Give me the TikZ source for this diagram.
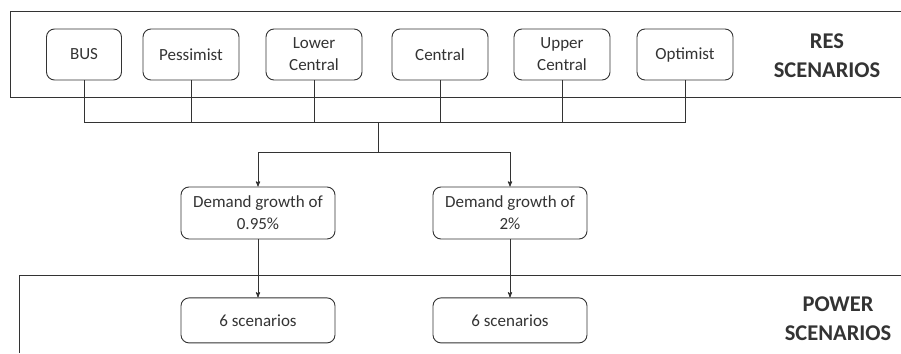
\documentclass[tikz,border=0pt]{standalone}
\usepackage{fontspec}
\setmainfont{Carlito}
\usetikzlibrary{arrows,
    positioning}

\begin{document}
\begin{tikzpicture} [x = 1pt, y = -1pt,
    > = stealth',
    line width = 0.9pt,
    draw = black!80,
    every node/.style = {text = black!80, font = \fontsize{17}{22}\selectfont},
    res/.style = {draw, rounded corners = 8pt, align = center,
        minimum width = 96pt, minimum height = 51pt, inner sep = 2pt},
    demand/.style = {res, minimum width = 154pt, minimum height = 52pt},
    power/.style = {res, minimum width = 154pt, minimum height = 45pt},
    title/.style = {align = center, font = \fontsize{22.5}{29}\selectfont\bfseries}]
\useasboundingbox (0,0) rectangle (901,353);

\draw (901,11) -- (10,11) -- (10,97) -- (901,97);
\draw (901,275) -- (19,275) -- (19,353);

\node[res, minimum width=75pt] (bus) at (84,54.5) {BUS};
\node[res] (pess) at (191,54.5) {Pessimist};
\node[res] (lowc) at (314,54.5) {Lower\\Central};
\node[res] (cent) at (440,54.5) {Central};
\node[res] (uppc) at (562,54.5) {Upper\\Central};
\node[res] (opti) at (685,54.5) {Optimist};
\node[title] (restitle) at (827,55.5) {RES\\SCENARIOS};

\coordinate (hub) at (378,122);
\coordinate (split) at (378,152);

\node[demand] (d1) at (258,213) {Demand growth of\\0.95\%};
\node[demand] (d2) at (510,213) {Demand growth of\\2\%};
\node[power, below=58pt of d1] (s1) {6 scenarios};
\node[power, below=58pt of d2] (s2) {6 scenarios};
\node[title] (powtitle) at (838,319) {POWER\\SCENARIOS};

\draw (bus.south) |- (hub);
\draw (pess.south) |- (hub);
\draw (lowc.south) |- (hub);
\draw (cent.south) |- (hub);
\draw (uppc.south) |- (hub);
\draw (opti.south) |- (hub);
\draw (hub) -- (split);

\draw[->] (split) -| (d1.north);
\draw[->] (split) -| (d2.north);
\draw[->] (d1) -- (s1);
\draw[->] (d2) -- (s2);
\end{tikzpicture}
\end{document}
